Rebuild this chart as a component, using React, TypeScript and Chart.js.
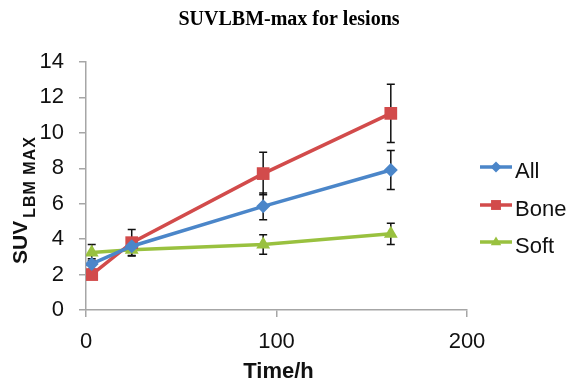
import React, { useEffect, useRef } from 'react';
import { Chart, registerables } from 'chart.js';

Chart.register(...registerables);

const CHART_TITLE = 'SUVLBM-max for lesions';
const X_TITLE = 'Time/h';
const Y_TITLE_MAIN = 'SUV';
const Y_TITLE_SUB = 'LBM MAX';

const TIMES = [3, 24, 93, 160];
const SERIES_NAMES = ['All', 'Bone', 'Soft'];
const ALL_VALUES = [2.6, 3.6, 5.85, 7.9];
const ALL_ERRORS = [0.3, 0.3, 0.75, 1.1];
const BONE_VALUES = [2.0, 3.8, 7.7, 11.1];
const BONE_ERRORS = [0.2, 0.75, 1.2, 1.65];
const SOFT_VALUES = [3.25, 3.4, 3.7, 4.3];
const SOFT_ERRORS = [0.45, 0.33, 0.55, 0.6];
const X_MIN = 0;
const X_MAX = 200;
const X_STEP = 100;
const Y_MIN = 0;
const Y_MAX = 14;
const Y_STEP = 2;

const COLORS = ['#4B86C9', '#D24B4B', '#99C13F'];
const POINT_STYLES = ['rectRot', 'rect', 'triangle'];
const POINT_RADII = [7, 9, 8];
const VALUES = [ALL_VALUES, BONE_VALUES, SOFT_VALUES];
const ERRORS = [ALL_ERRORS, BONE_ERRORS, SOFT_ERRORS];

const SANS = '"Liberation Sans", Arial, sans-serif';
const SERIF = '"Liberation Serif", "Times New Roman", serif';
const AXIS_GRAY = '#A6A6A6';

function drawMarker(ctx: CanvasRenderingContext2D, style: string, x: number, y: number, r: number) {
  ctx.beginPath();
  if (style === 'rect') {
    const s = Math.SQRT1_2 * r;
    ctx.rect(x - s, y - s, 2 * s, 2 * s);
  } else if (style === 'rectRot') {
    ctx.moveTo(x, y - r);
    ctx.lineTo(x + r, y);
    ctx.lineTo(x, y + r);
    ctx.lineTo(x - r, y);
    ctx.closePath();
  } else {
    ctx.moveTo(x, y - r);
    ctx.lineTo(x + r * 0.95, y + r * 0.6);
    ctx.lineTo(x - r * 0.95, y + r * 0.6);
    ctx.closePath();
  }
  ctx.fill();
}

const errorBarPlugin = {
  id: 'errorBars',
  beforeDatasetsDraw(chart: any) {
    const ctx = chart.ctx as CanvasRenderingContext2D;
    const xs = chart.scales.x;
    const ys = chart.scales.y;
    ctx.save();
    ctx.strokeStyle = '#111111';
    ctx.lineWidth = 1.5;
    VALUES.forEach((vals, i) => {
      vals.forEach((v, j) => {
        const e = ERRORS[i][j];
        const x = xs.getPixelForValue(TIMES[j]);
        const yt = ys.getPixelForValue(v + e);
        const yb = ys.getPixelForValue(v - e);
        ctx.beginPath();
        ctx.moveTo(x, yt);
        ctx.lineTo(x, yb);
        ctx.moveTo(x - 4, yt);
        ctx.lineTo(x + 4, yt);
        ctx.moveTo(x - 4, yb);
        ctx.lineTo(x + 4, yb);
        ctx.stroke();
      });
    });
    ctx.restore();
  },
};

const textPlugin = {
  id: 'texts',
  afterDraw(chart: any) {
    const ctx = chart.ctx as CanvasRenderingContext2D;
    const area = chart.chartArea;
    ctx.save();
    // chart title
    ctx.fillStyle = '#000000';
    ctx.font = `bold 20px ${SERIF}`;
    ctx.textAlign = 'center';
    ctx.textBaseline = 'alphabetic';
    ctx.fillText(CHART_TITLE, 289, 25);

    // x title
    ctx.fillStyle = '#111111';
    ctx.font = `bold 22px ${SANS}`;
    ctx.fillText(X_TITLE, (area.left + area.right) / 2 + 2, 378);

    // y title with subscript
    ctx.translate(27, 264);
    ctx.rotate(-Math.PI / 2);
    ctx.textAlign = 'left';
    ctx.font = `bold 21px ${SANS}`;
    ctx.fillText(Y_TITLE_MAIN, 0, 0);
    const w = ctx.measureText(Y_TITLE_MAIN).width;
    ctx.font = `bold 16px ${SANS}`;
    (ctx as any).letterSpacing = '1px';
    ctx.fillText(Y_TITLE_SUB, w + 3, 8);
    (ctx as any).letterSpacing = '0px';
    ctx.restore();

    // legend
    ctx.save();
    const lineY = [167, 205, 242];
    SERIES_NAMES.forEach((name, i) => {
      const y = lineY[i];
      ctx.strokeStyle = COLORS[i];
      ctx.fillStyle = COLORS[i];
      ctx.lineWidth = 3.5;
      ctx.beginPath();
      ctx.moveTo(480, y);
      ctx.lineTo(512, y);
      ctx.stroke();
      drawMarker(ctx, POINT_STYLES[i], 496, y, i === 1 ? 7 : 5.5);
      ctx.fillStyle = '#111111';
      ctx.font = `22px ${SANS}`;
      ctx.textAlign = 'left';
      ctx.textBaseline = 'alphabetic';
      ctx.fillText(name, 515, y + 11);
    });
    ctx.restore();
  },
};

export default function App() {
  const canvasRef = useRef<HTMLCanvasElement | null>(null);

  useEffect(() => {
    document.body.style.margin = '0';
    const canvas = canvasRef.current;
    if (!canvas) return;
    const chart = new Chart(canvas, {
      type: 'line',
      data: {
        datasets: SERIES_NAMES.map((name, i) => ({
          label: name,
          data: TIMES.map((t, j) => ({ x: t, y: VALUES[i][j] })),
          borderColor: COLORS[i],
          backgroundColor: COLORS[i],
          borderWidth: 3.5,
          pointStyle: POINT_STYLES[i] as any,
          pointRadius: POINT_RADII[i],
          pointBorderWidth: 0,
          pointBackgroundColor: COLORS[i],
          tension: 0,
        })),
      },
      options: {
        responsive: false,
        animation: false,
        layout: { padding: { left: 0, top: 62, right: 107, bottom: 0 } },
        plugins: {
          legend: { display: false },
          title: { display: false },
          tooltip: { enabled: false },
        },
        scales: {
          x: {
            type: 'linear',
            min: X_MIN,
            max: X_MAX,
            ticks: {
              stepSize: X_STEP,
              color: '#111111',
              font: { family: SANS, size: 22 },
              padding: 12,
              maxRotation: 0,
            },
            grid: {
              drawOnChartArea: false,
              drawTicks: true,
              tickLength: 7,
              color: AXIS_GRAY,
              lineWidth: 1.5,
            },
            border: { color: AXIS_GRAY, width: 1.5 },
            afterFit: (scale: any) => {
              scale.height = 75;
            },
          },
          y: {
            type: 'linear',
            min: Y_MIN,
            max: Y_MAX,
            ticks: {
              stepSize: Y_STEP,
              color: '#111111',
              font: { family: SANS, size: 22 },
              padding: 15,
            },
            grid: {
              drawOnChartArea: false,
              drawTicks: true,
              tickLength: 7,
              color: AXIS_GRAY,
              lineWidth: 1.5,
            },
            border: { color: AXIS_GRAY, width: 1.5 },
            afterFit: (scale: any) => {
              scale.width = 86;
            },
          },
        },
      },
      plugins: [errorBarPlugin, textPlugin],
    });
    return () => chart.destroy();
  }, []);

  return (
    <div style={{ position: 'absolute', left: 0, top: 0, width: 574, height: 385, background: '#fff' }}>
      <canvas ref={canvasRef} width={574} height={385} />
    </div>
  );
}
